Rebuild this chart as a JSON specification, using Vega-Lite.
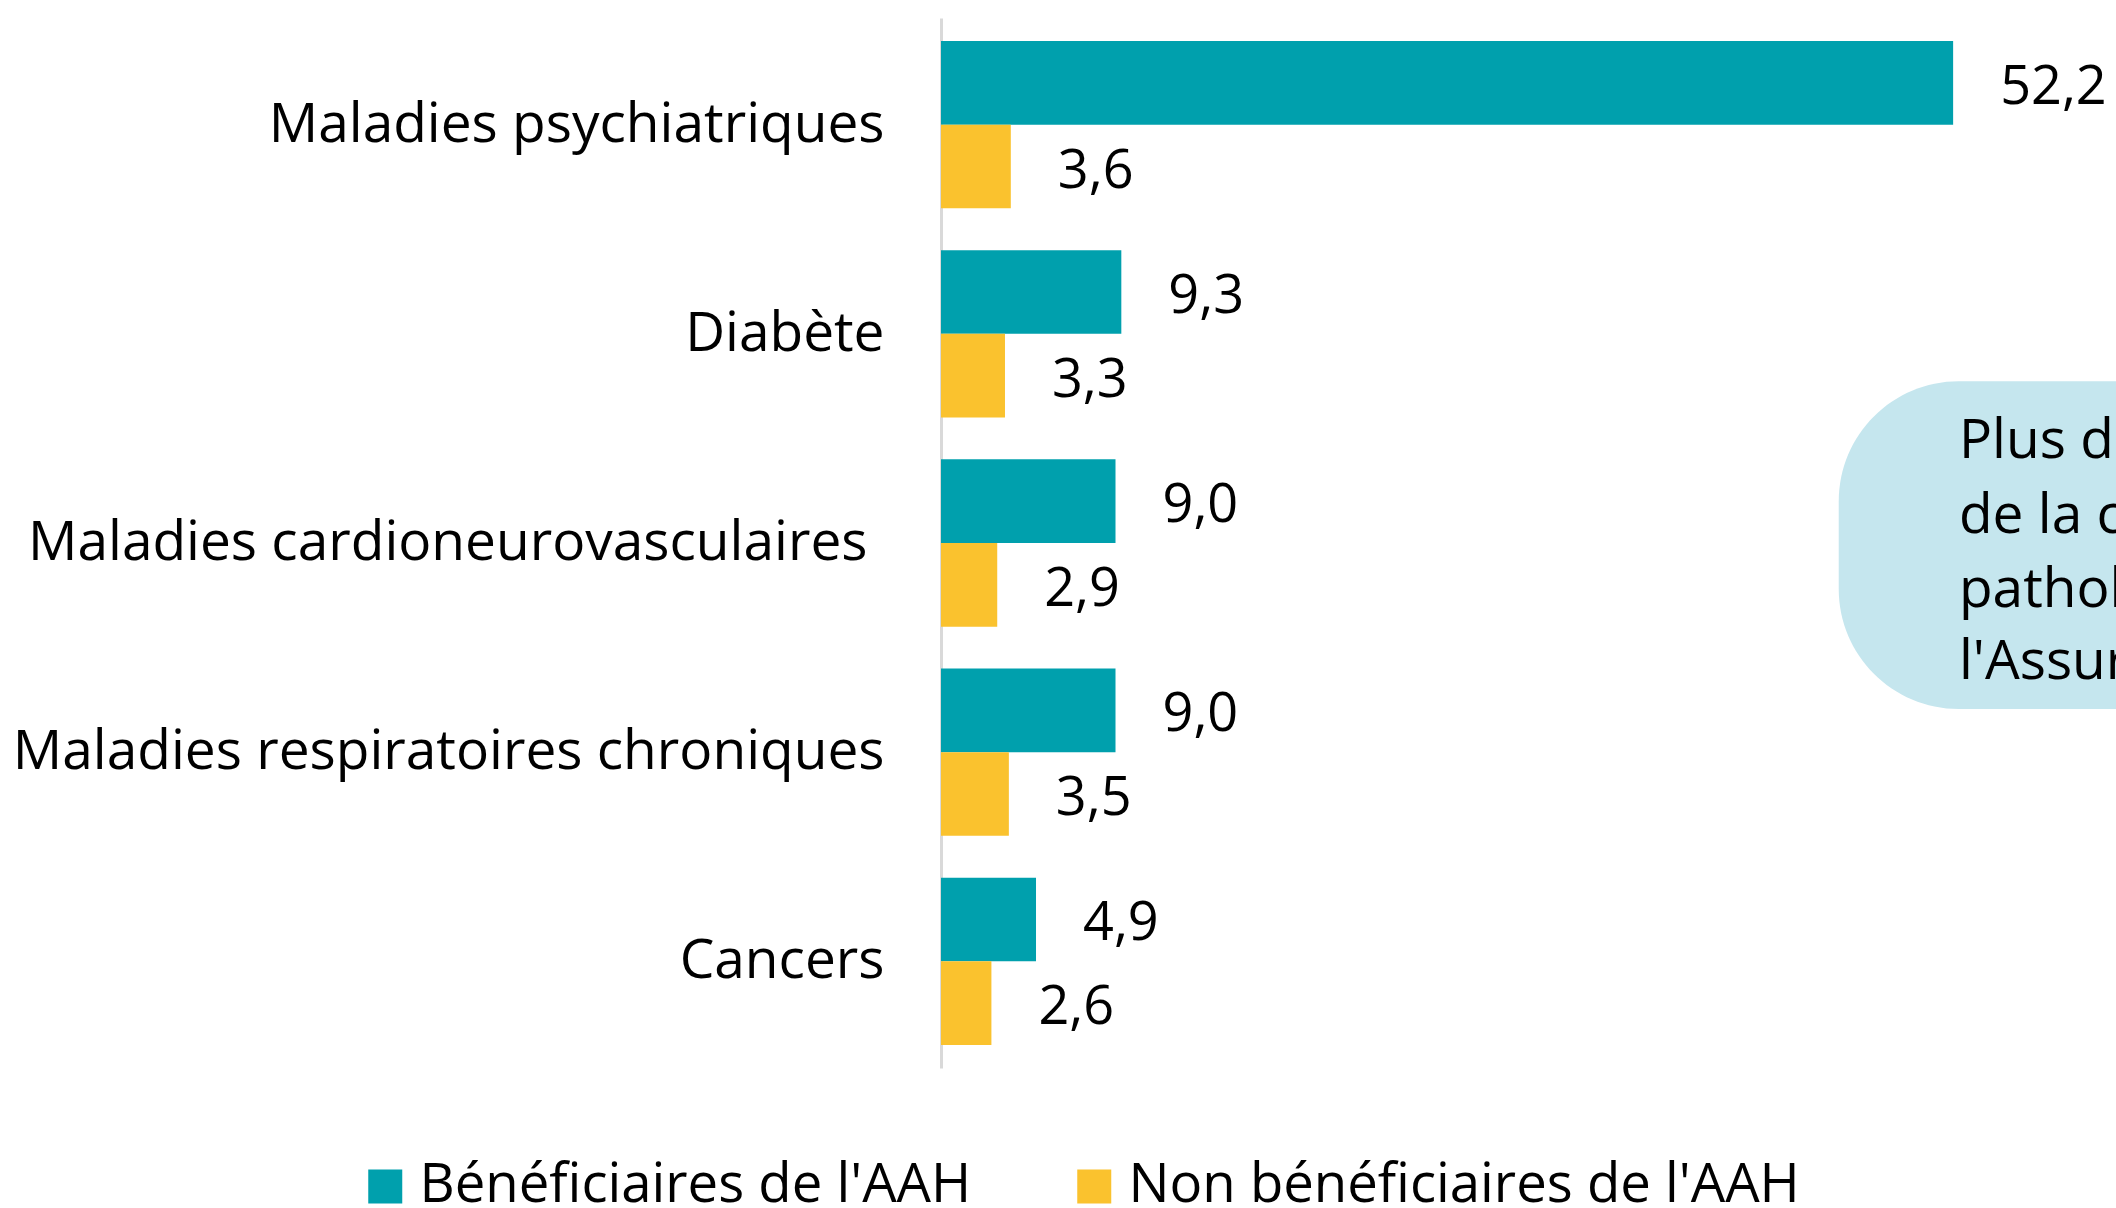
{
  "$schema": "https://vega.github.io/schema/vega-lite/v6.json",
  "width": 1175,
  "height": 1050,
  "autosize": {"type": "none"},
  "padding": {"left": 941, "top": 18, "right": 0, "bottom": 140},
  "config": {
    "view": {"stroke": null},
    "font": "Open Sans",
    "locale": {"number": {"decimal": ",", "thousands": " ", "grouping": [3], "currency": ["", " €"]}}
  },
  "layer": [
    {
      "data": {"values": [
        {"cat": "Maladies psychiatriques", "grp": "Bénéficiaires de l'AAH", "v": 52.2},
        {"cat": "Maladies psychiatriques", "grp": "Non bénéficiaires de l'AAH", "v": 3.6},
        {"cat": "Diabète", "grp": "Bénéficiaires de l'AAH", "v": 9.3},
        {"cat": "Diabète", "grp": "Non bénéficiaires de l'AAH", "v": 3.3},
        {"cat": "Maladies cardioneurovasculaires", "grp": "Bénéficiaires de l'AAH", "v": 9.0},
        {"cat": "Maladies cardioneurovasculaires", "grp": "Non bénéficiaires de l'AAH", "v": 2.9},
        {"cat": "Maladies respiratoires chroniques", "grp": "Bénéficiaires de l'AAH", "v": 9.0},
        {"cat": "Maladies respiratoires chroniques", "grp": "Non bénéficiaires de l'AAH", "v": 3.5},
        {"cat": "Cancers", "grp": "Bénéficiaires de l'AAH", "v": 4.9},
        {"cat": "Cancers", "grp": "Non bénéficiaires de l'AAH", "v": 2.6}
      ]},
      "encoding": {
        "y": {
          "field": "cat", "type": "nominal", "sort": null,
          "scale": {"paddingInner": 0.2, "paddingOuter": 0.11},
          "axis": {
            "title": null, "ticks": false, "labelFontSize": 55, "labelColor": "#000",
            "labelPadding": {"condition": {"test": "datum.value === 'Maladies cardioneurovasculaires'", "value": 74}, "value": 57},
            "domainColor": "#d9d9d9", "domainWidth": 3, "labelLimit": 1000
          }
        },
        "yOffset": {"field": "grp", "type": "nominal", "sort": ["Bénéficiaires de l'AAH", "Non bénéficiaires de l'AAH"]},
        "x": {"field": "v", "type": "quantitative", "scale": {"domain": [0, 60.6]}, "axis": null}
      },
      "layer": [
        {
          "mark": {"type": "bar"},
          "encoding": {
            "color": {
              "field": "grp", "type": "nominal",
              "scale": {"domain": ["Bénéficiaires de l'AAH", "Non bénéficiaires de l'AAH"], "range": ["#00A0AD", "#FAC22E"]},
              "legend": {
                "orient": "none", "legendX": -583, "legendY": 1141, "direction": "horizontal",
                "title": null, "symbolType": "square", "symbolSize": 1156, "symbolStrokeWidth": 0,
                "symbolOpacity": 1, "labelFontSize": 54.5, "labelOffset": 7, "columnPadding": 95,
                "labelColor": "#000", "padding": 0, "labelLimit": 1000
              }
            }
          }
        },
        {
          "mark": {"type": "text", "align": "left", "baseline": "middle", "dx": 47, "dy": 5, "fontSize": 54, "color": "#000"},
          "encoding": {"text": {"field": "v", "type": "quantitative", "format": ".1f"}}
        }
      ]
    },
    {
      "data": {"values": [{"x1": 46.3, "x2": 80, "y1": 34.6, "y2": 65.8}]},
      "mark": {"type": "rect", "cornerRadius": 120, "color": "#C5E6EE"},
      "encoding": {
        "x": {"field": "x1", "type": "quantitative", "scale": {"domain": [0, 60.6]}, "axis": null},
        "x2": {"field": "x2"},
        "y": {"field": "y1", "type": "quantitative", "scale": {"domain": [0, 100], "reverse": true}, "axis": null},
        "y2": {"field": "y2"}
      }
    },
    {
      "data": {"values": [
        {"line": "Plus de la moitié", "x": 52.5, "y": 40.3},
        {"line": "de la consommation", "x": 52.5, "y": 47.4},
        {"line": "pathologies de", "x": 52.5, "y": 54.5},
        {"line": "l'Assurance maladie", "x": 52.5, "y": 61.3}
      ]},
      "mark": {"type": "text", "align": "left", "baseline": "middle", "fontSize": 55, "color": "#000"},
      "encoding": {
        "x": {"field": "x", "type": "quantitative", "scale": {"domain": [0, 60.6]}, "axis": null},
        "y": {"field": "y", "type": "quantitative", "scale": {"domain": [0, 100], "reverse": true}, "axis": null},
        "text": {"field": "line"}
      }
    }
  ],
  "resolve": {"scale": {"y": "independent"}}
}
